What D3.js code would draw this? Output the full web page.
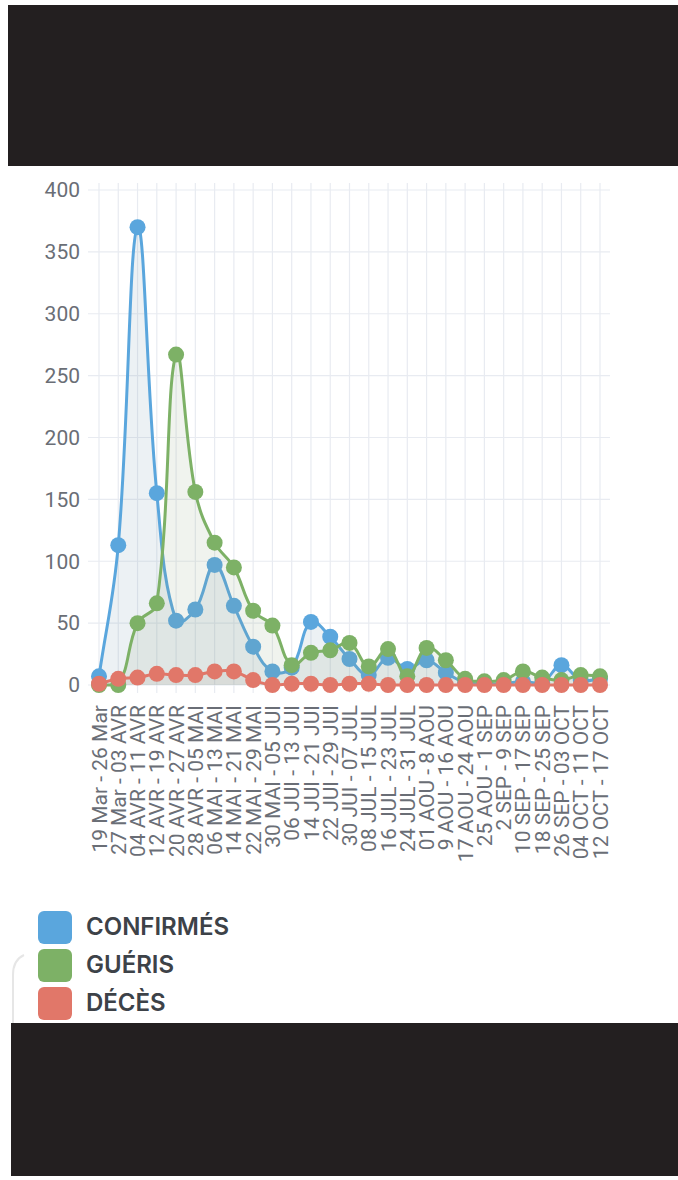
<!DOCTYPE html>
<html>
<head>
<meta charset="utf-8">
<script src="https://cdn.jsdelivr.net/npm/d3@7"></script>
<style>
  html, body { margin: 0; padding: 0; background: #fff; }
  svg { display: block; }
</style>
</head>
<body>
<svg id="chart" width="678" height="1180"></svg>
<script>
// weekly periods
const labels = [
  "19 Mar - 26 Mar", "27 Mar - 03 AVR", "04 AVR - 11 AVR", "12 AVR - 19 AVR",
  "20 AVR - 27 AVR", "28 AVR - 05 MAI", "06 MAI - 13 MAI", "14 MAI - 21 MAI",
  "22 MAI - 29 MAI", "30 MAI - 05 JUI", "06 JUI - 13 JUI", "14 JUI - 21 JUI",
  "22 JUI - 29 JUI", "30 JUI - 07 JUL", "08 JUL - 15 JUL", "16 JUL - 23 JUL",
  "24 JUL - 31 JUL", "01 AOU - 8 AOU", "9 AOU - 16 AOU", "17 AOU - 24 AOU",
  "25 AOU - 1 SEP", "2 SEP - 9 SEP", "10 SEP - 17 SEP", "18 SEP - 25 SEP",
  "26 SEP - 03 OCT", "04 OCT - 11 OCT", "12 OCT - 17 OCT"
];
const confirmes = [7, 113, 370, 155, 52, 61, 97, 64, 31, 11, 14, 51, 39, 21, 8, 22, 13, 20, 10, 2, 1, 1, 3, 2, 16, 4, 5];
const gueris    = [0, 0, 50, 66, 267, 156, 115, 95, 60, 48, 16, 26, 28, 34, 15, 29, 7, 30, 20, 5, 3, 4, 11, 6, 4, 8, 7];
const deces     = [1, 5, 6, 9, 8, 8, 11, 11, 4, 0, 1, 1, 0, 1, 1, 0, 0, 0, 0, 0, 0, 0, 0, 0, 0, 0, 0];
const yTicks = [0, 50, 100, 150, 200, 250, 300, 350, 400];
const seriesNames = ["CONFIRMÉS", "GUÉRIS", "DÉCÈS"];
const seriesColors = ["#5aa6dd", "#7db166", "#e17769"];

const svg = d3.select("#chart");

// phone screenshot black bands
svg.append("rect").attr("x", 8).attr("y", 5).attr("width", 670).attr("height", 161).attr("fill", "#231f20");
svg.append("rect").attr("x", 11).attr("y", 1023).attr("width", 667).attr("height", 153).attr("fill", "#231f20");

const plotTop = 190, plotBottom = 685;
const x = d3.scalePoint().domain(labels).range([99, 600]);
const y = d3.scaleLinear().domain([0, 400]).range([plotBottom, plotTop]);

// grid
const grid = svg.append("g").attr("stroke", "#e8ebf1").attr("stroke-width", 1.2);
grid.selectAll(".v").data(labels).join("line")
  .attr("class", "v")
  .attr("x1", d => x(d)).attr("x2", d => x(d))
  .attr("y1", plotTop - 7).attr("y2", plotBottom + 8);
grid.selectAll(".h").data(yTicks).join("line")
  .attr("class", "h")
  .attr("x1", 88).attr("x2", 610)
  .attr("y1", d => y(d)).attr("y2", d => y(d));

// y labels
svg.append("g").selectAll("text").data(yTicks).join("text")
  .attr("x", 80).attr("y", d => y(d)).attr("dy", "0.35em")
  .attr("text-anchor", "end")
  .attr("font-family", "Roboto, sans-serif").attr("font-size", 21)
  .attr("fill", "#6a6e76")
  .text(d => d);

// x labels
svg.append("g").selectAll("text").data(labels).join("text")
  .attr("transform", d => `translate(${x(d)},705) rotate(-90)`)
  .attr("dy", "0.36em")
  .attr("text-anchor", "end")
  .attr("font-family", "Roboto, sans-serif").attr("font-size", 21)
  .attr("fill", "#6a6e76")
  .text(d => d);

// bezier spline like chart.js (tension 0.4), control points kept inside the plot
function splineCurve(context) {
  return {
    areaStart() { this._line = 0; },
    areaEnd() { this._line = NaN; },
    lineStart() { this._pts = []; },
    point(px, py) { this._pts.push([+px, +py]); },
    lineEnd() {
      const p = this._pts, n = p.length, t = 0.4;
      if (n) {
        this._line ? context.lineTo(p[0][0], p[0][1]) : context.moveTo(p[0][0], p[0][1]);
        const cl = v => Math.max(plotTop, Math.min(plotBottom, v));
        const cp = p.map((cur, i) => {
          const prev = p[Math.max(i - 1, 0)], next = p[Math.min(i + 1, n - 1)];
          const d01 = Math.hypot(cur[0] - prev[0], cur[1] - prev[1]);
          const d12 = Math.hypot(next[0] - cur[0], next[1] - cur[1]);
          let s01 = d01 / (d01 + d12), s12 = d12 / (d01 + d12);
          if (isNaN(s01)) s01 = 0;
          if (isNaN(s12)) s12 = 0;
          const fa = t * s01, fb = t * s12;
          return {
            prev: [cur[0] - fa * (next[0] - prev[0]), cl(cur[1] - fa * (next[1] - prev[1]))],
            next: [cur[0] + fb * (next[0] - prev[0]), cl(cur[1] + fb * (next[1] - prev[1]))]
          };
        });
        for (let i = 1; i < n; i++) {
          context.bezierCurveTo(cp[i - 1].next[0], cp[i - 1].next[1], cp[i].prev[0], cp[i].prev[1], p[i][0], p[i][1]);
        }
      }
      if (this._line || (this._line !== 0 && n === 1)) context.closePath();
      this._line = 1 - this._line;
    }
  };
}

const series = [confirmes, gueris, deces];
const fills = ["#6f93ad", "#8aa67a", "#b09a96"];

const area = d3.area()
  .x((d, i) => x(labels[i]))
  .y0(y(0))
  .y1(d => y(d))
  .curve(splineCurve);
const line = d3.line()
  .x((d, i) => x(labels[i]))
  .y(d => y(d))
  .curve(splineCurve);

series.forEach((vals, k) => {
  const g = svg.append("g");
  g.append("path").datum(vals).attr("d", area)
    .attr("fill", fills[k]).attr("fill-opacity", 0.13);
  g.append("path").datum(vals).attr("d", line)
    .attr("fill", "none").attr("stroke", seriesColors[k]).attr("stroke-width", 3);
  g.selectAll("circle").data(vals).join("circle")
    .attr("cx", (d, i) => x(labels[i]))
    .attr("cy", d => y(d))
    .attr("r", 8)
    .attr("fill", seriesColors[k]);
});

// faint card edge at left of the legend
svg.append("path")
  .attr("d", "M24,955 Q13,960 13,975 L13,1023")
  .attr("fill", "none").attr("stroke", "#e6e6e6").attr("stroke-width", 2);

// legend
const legend = svg.append("g").selectAll("g").data(seriesNames).join("g")
  .attr("transform", (d, i) => `translate(38,${911 + i * 38})`);
legend.append("rect")
  .attr("width", 34).attr("height", 33).attr("rx", 6)
  .attr("fill", (d, i) => seriesColors[i]);
legend.append("text")
  .attr("x", 48).attr("y", 15).attr("dy", "0.36em")
  .attr("font-family", "Inter, sans-serif").attr("font-weight", 600).attr("font-size", 24)
  .attr("fill", "#3d4248")
  .text(d => d);
</script>
</body>
</html>
